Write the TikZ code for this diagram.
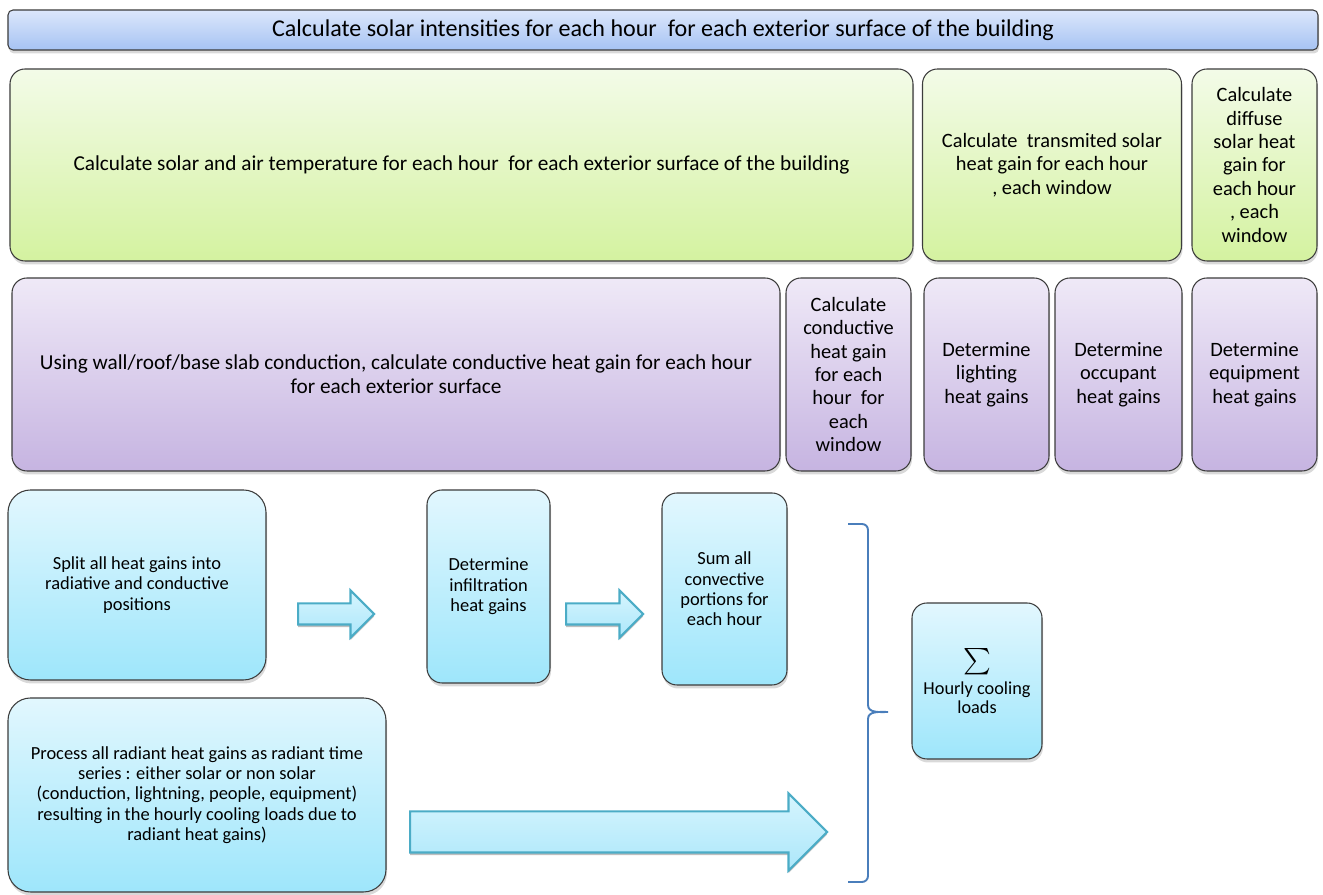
\documentclass[tikz,border=0pt]{standalone}
\usepackage{fontspec}
\setmainfont{Carlito}
\usetikzlibrary{shapes.arrows}
\usetikzlibrary{shadows}
\definecolor{boxline}{HTML}{3C3C3C}
\definecolor{bartop}{HTML}{DCE7FB}
\definecolor{barbot}{HTML}{A6C3F3}
\definecolor{greentop}{HTML}{F3FBE8}
\definecolor{greenbot}{HTML}{D4F2A0}
\definecolor{violettop}{HTML}{EFE9F7}
\definecolor{violetbot}{HTML}{C6B4E1}
\definecolor{bluetop}{HTML}{E2F7FE}
\definecolor{bluebot}{HTML}{9EE6FB}
\definecolor{arrowline}{HTML}{4BACC6}
\definecolor{arrowtop}{HTML}{D6F5FE}
\definecolor{arrowbot}{HTML}{ACE7FA}
\definecolor{bracecol}{HTML}{4A7EBB}
\tikzstyle{stage}=[rectangle, draw=boxline, line width=0.6pt, align=center,
                   inner sep=2pt, rounded corners=3mm,
                   drop shadow={shadow xshift=0.02cm, shadow yshift=-0.07cm, opacity=0.3}]

\begin{document}
\begin{tikzpicture}
  \tikzstyle{topbar}=[stage, rounded corners=1mm, top color=bartop, bottom color=barbot,
                      font=\fontsize{13.7}{15}\selectfont]
  \tikzstyle{greenstage}=[stage, top color=greentop, bottom color=greenbot,
                          font=\fontsize{11.6}{13.3}\selectfont, minimum height=3.84cm]
  \tikzstyle{violetstage}=[stage, top color=violettop, bottom color=violetbot,
                           font=\fontsize{11.6}{13.3}\selectfont, minimum height=3.86cm]
  \tikzstyle{widetext}=[font=\fontsize{12.1}{13.6}\selectfont]
  \tikzstyle{bluestage}=[stage, top color=bluetop, bottom color=bluebot,
                         font=\fontsize{10.5}{11.6}\selectfont]
  \tikzstyle{blockarrow}=[single arrow, draw=arrowline, line width=1.2pt, anchor=tail,
                          top color=arrowtop, bottom color=arrowbot,
                          drop shadow={shadow xshift=0cm, shadow yshift=-0.05cm, opacity=0.5}]
  \useasboundingbox (0,0) rectangle (26.46,17.9);
  % solar intensities
  \node (intensities) at (13.26,17.3) [topbar, minimum width=26.2cm, minimum height=0.8cm]
    {Calculate solar intensities for each hour~ for each exterior surface of the building};
  % solar gains
  \node (solairtemp) at (9.23,14.6) [greenstage, widetext, minimum width=18.06cm]
    {Calculate solar and air temperature for each hour~ for each exterior surface of the building};
  \node (transmitted) at (21.04,14.6) [greenstage, minimum width=5.18cm]
    {Calculate~ transmited solar\\heat gain for each hour\\, each window};
  \node (diffuse) at (25.09,14.6) [greenstage, minimum width=2.5cm]
    {Calculate\\diffuse\\solar heat\\gain for\\each hour\\, each\\window};
  % conduction and internal gains
  \node (wallcond) at (7.92,10.41) [violetstage, widetext, minimum width=15.36cm]
    {Using wall/roof/base slab conduction, calculate conductive heat gain for each hour\\for each exterior surface};
  \node (windowcond) at (16.97,10.41) [violetstage, minimum width=2.5cm]
    {Calculate\\conductive\\heat gain\\for each\\hour~ for\\each\\window};
  \node (lighting) at (19.73,10.41) [violetstage, minimum width=2.5cm]
    {Determine\\lighting\\heat gains};
  \node (occupant) at (22.37,10.41) [violetstage, minimum width=2.54cm]
    {Determine\\occupant\\heat gains};
  \node (equipment) at (25.09,10.41) [violetstage, minimum width=2.5cm]
    {Determine\\equipment\\heat gains};
  % cooling loads
  \node (split) at (2.74,6.2) [bluestage, rounded corners=4.5mm, minimum width=5.16cm, minimum height=3.8cm]
    {Split all heat gains into\\radiative and conductive\\positions};
  \node (infiltration) at (9.77,6.17) [bluestage, minimum width=2.46cm, minimum height=3.86cm]
    {Determine\\infiltration\\heat gains};
  \node (convective) at (14.49,6.12) [bluestage, minimum width=2.5cm, minimum height=3.84cm]
    {Sum all\\convective\\portions for\\each hour};
  \node (radiant) at (3.94,2.0) [bluestage, rounded corners=4.5mm, minimum width=7.56cm, minimum height=3.88cm]
    {Process all radiant heat gains as radiant time\\series : either solar or non solar\\(conduction, lightning, people, equipment)\\resulting in the hourly cooling loads due to\\radiant heat gains)};
  \node (hourly) at (19.54,4.28) [bluestage, font=\fontsize{10.4}{10.4}\selectfont, minimum width=2.6cm, minimum height=3.12cm]
    {\scalebox{1.5}{$\sum$}\\[3pt]Hourly cooling\\loads};
  % block arrows
  \node (splitarrow) at (5.94,5.62) [blockarrow, inner sep=0.19cm, minimum height=1.52cm,
    single arrow head extend=0.26cm] {};
  \node (infilarrow) at (11.3,5.62) [blockarrow, inner sep=0.19cm, minimum height=1.54cm,
    single arrow head extend=0.26cm] {};
  \node (radiantarrow) at (8.18,1.26) [blockarrow, inner sep=0.39cm, minimum height=8.34cm,
    single arrow head extend=0.36cm] {};
  % brace
  \coordinate (bracetop) at (16.96,7.42);
  \coordinate (bracetip) at (17.76,3.66);
  \coordinate (bracebot) at (16.96,0.26);
  \draw [bracecol, line width=1.1pt] (bracetop) -- (17.24,7.42) to[out=0,in=90] (17.36,7.3)
    -- (17.36,3.8) to[out=-90,in=180] (bracetip) to[out=180,in=90] (17.36,3.52)
    -- (17.36,0.38) to[out=-90,in=0] (17.24,0.26) -- (bracebot);
\end{tikzpicture}
\end{document}
